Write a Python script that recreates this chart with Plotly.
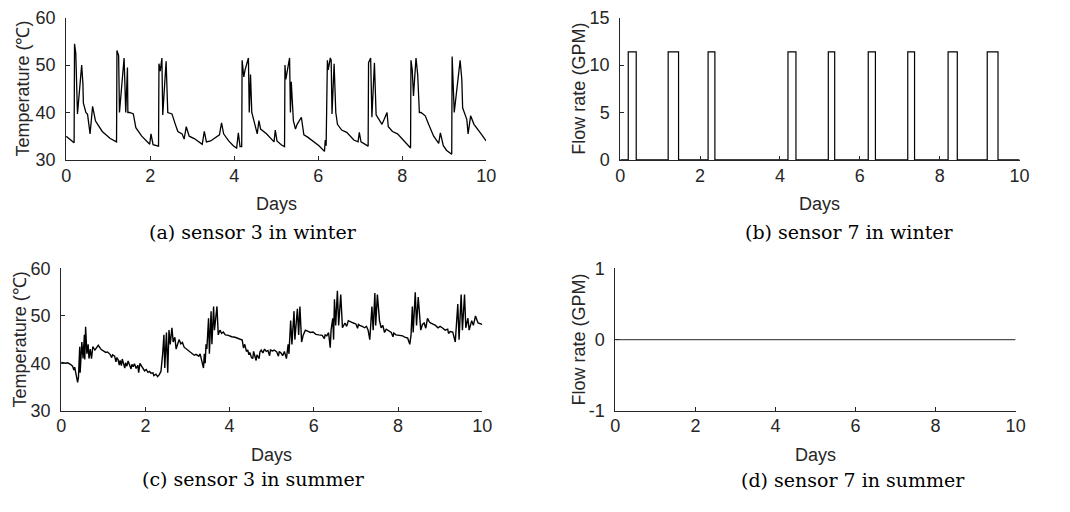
import plotly.graph_objects as go

# ---------------- data ----------------
winter_days = [0, 0.1, 0.19, 0.2, 0.23, 0.27, 0.37, 0.4, 0.41, 0.47, 0.51, 0.57, 0.63, 0.7, 0.86, 1.05, 1.2,
               1.21, 1.25, 1.27, 1.38, 1.42, 1.46, 1.47, 1.51, 1.6, 1.66, 1.8, 1.91, 1.99, 2.02, 2.07, 2.2,
               2.21, 2.24, 2.28, 2.3, 2.38, 2.42, 2.52, 2.6, 2.66, 2.76, 2.81, 2.86, 2.93, 3.05, 3.24, 3.29,
               3.34, 3.44, 3.55, 3.65, 3.7, 3.75, 3.87, 3.98, 4.06, 4.1, 4.14, 4.18,
               4.19, 4.23, 4.26, 4.34, 4.36, 4.39, 4.42, 4.51, 4.55, 4.59, 4.63, 4.77, 4.88, 4.95, 4.98, 5.02,
               5.12, 5.2, 5.21, 5.23, 5.32, 5.34, 5.36, 5.41, 5.46, 5.5, 5.6, 5.66, 5.75, 5.86, 6.02, 6.15,
               6.17, 6.19, 6.22, 6.24, 6.29, 6.31, 6.33, 6.38, 6.42, 6.46, 6.52, 6.56, 6.68, 6.76, 6.85, 6.95,
               6.98, 7.02, 7.19, 7.2, 7.25, 7.28, 7.34, 7.38, 7.46, 7.52, 7.57, 7.64, 7.67, 7.77, 7.89, 8.05,
               8.16, 8.2, 8.21, 8.24, 8.27, 8.33, 8.37, 8.41, 8.45, 8.55, 8.63, 8.75, 8.87, 8.91, 8.98, 9.06,
               9.18, 9.19, 9.24, 9.38, 9.42, 9.44, 9.5, 9.54, 9.57, 9.63, 9.71, 9.8, 9.88, 9.96, 10.0]
winter_temp = [35.0, 34.3, 33.6, 54.5, 52.5, 39.7, 50.0, 46.0, 42.0, 40.0, 39.6, 35.5, 41.3, 38.2, 36.0, 34.5, 33.8,
               53.1, 52.0, 40.0, 51.5, 40.0, 49.5, 40.0, 40.0, 39.7, 36.8, 35.0, 34.0, 33.3, 35.5, 33.2, 32.9,
               50.3, 48.7, 51.5, 39.5, 50.8, 40.0, 39.7, 37.5, 36.0, 35.5, 34.4, 37.0, 35.0, 34.5, 33.3, 36.0,
               33.8, 34.0, 34.7, 35.3, 37.8, 35.5, 34.0, 33.0, 32.5, 35.7, 32.8, 32.8,
               51.0, 47.5, 49.0, 51.5, 40.0, 48.0, 40.0, 37.0, 35.5, 38.3, 36.5, 35.5, 34.5, 33.8, 36.3, 34.0,
               33.2, 32.8, 50.0, 47.0, 51.5, 40.0, 46.5, 38.3, 36.5, 37.5, 39.0, 35.3, 34.8, 34.0, 33.0, 31.8,
               34.2, 33.0, 51.0, 49.0, 51.5, 51.0, 39.7, 50.3, 40.0, 37.5, 36.8, 36.3, 35.8, 35.0, 34.2, 33.8,
               35.8, 33.8, 32.9, 50.5, 51.5, 39.0, 50.5, 39.5, 38.5, 37.5, 38.5, 40.0, 37.0, 36.0, 35.5, 34.0,
               33.0, 32.5, 51.0, 49.0, 43.5, 51.5, 48.0, 40.0, 40.0, 39.3, 37.5, 35.0, 33.5, 35.7, 33.0, 32.0,
               31.2, 51.8, 40.0, 51.0, 47.0, 41.0, 39.5, 38.5, 35.5, 39.3, 37.5, 36.3, 35.5, 34.5, 34.0]

flow_winter_days = [0, 0.20, 0.40, 1.20, 1.46, 2.20, 2.37, 4.20, 4.40, 5.21, 5.37, 6.21, 6.39,
                    7.20, 7.37, 8.21, 8.44, 9.19, 9.46, 10.0]
flow_winter_rate = [0, 11.4, 0, 11.4, 0, 11.4, 0, 11.4, 0, 11.4, 0, 11.4, 0,
                    11.4, 0, 11.4, 0, 11.4, 0, 0]

summer_days = [0, 0.1, 0.15, 0.22, 0.27, 0.3, 0.32, 0.34, 0.39, 0.41,
               0.44, 0.45, 0.49, 0.52, 0.55, 0.56, 0.58, 0.61, 0.64, 0.66,
               0.69, 0.72, 0.75, 0.8, 0.84, 0.88, 0.95, 1.0, 1.06, 1.1,
               1.16, 1.2, 1.22, 1.27, 1.3, 1.32, 1.35, 1.38, 1.4, 1.43,
               1.45, 1.47, 1.51, 1.53, 1.56, 1.59, 1.62, 1.66, 1.68, 1.71,
               1.74, 1.78, 1.82, 1.84, 1.87, 1.91, 1.94, 1.98, 2.02, 2.06,
               2.1, 2.13, 2.18, 2.2, 2.25, 2.29, 2.33, 2.37, 2.41, 2.44,
               2.46, 2.5, 2.53, 2.56, 2.59, 2.63, 2.66, 2.7, 2.73, 2.8,
               2.84, 2.88, 2.92, 2.95, 3.0, 3.05, 3.11, 3.16, 3.2, 3.27,
               3.3, 3.34, 3.38, 3.4, 3.42, 3.44, 3.46, 3.5, 3.52, 3.56,
               3.58, 3.62, 3.64, 3.7, 3.73, 3.77, 3.81, 3.85, 3.9, 3.97,
               4.05, 4.13, 4.2, 4.3, 4.33, 4.36, 4.4, 4.43, 4.46, 4.48,
               4.52, 4.55, 4.57, 4.6, 4.63, 4.65, 4.67, 4.7, 4.72, 4.75,
               4.79, 4.83, 4.87, 4.91, 4.95, 4.97, 5.02, 5.06, 5.12, 5.16,
               5.18, 5.22, 5.26, 5.3, 5.35, 5.39, 5.41, 5.45, 5.48, 5.53,
               5.55, 5.61, 5.64, 5.67, 5.71, 5.75, 5.8, 5.85, 5.92, 5.98,
               6.05, 6.12, 6.2, 6.25, 6.27, 6.31, 6.35, 6.39, 6.41, 6.45,
               6.47, 6.49, 6.52, 6.56, 6.59, 6.64, 6.68, 6.74, 6.78, 6.82,
               6.88, 6.94, 7.0, 7.04, 7.06, 7.09, 7.15, 7.21, 7.25, 7.29,
               7.33, 7.35, 7.38, 7.41, 7.45, 7.47, 7.51, 7.56, 7.6, 7.64,
               7.68, 7.72, 7.78, 7.84, 7.88, 7.9, 7.95, 8.02, 8.11, 8.16,
               8.23, 8.28, 8.31, 8.34, 8.36, 8.41, 8.44, 8.48, 8.54, 8.58,
               8.62, 8.66, 8.7, 8.74, 8.77, 8.82, 8.89, 8.95, 9.0, 9.05,
               9.12, 9.18, 9.2, 9.24, 9.3, 9.36, 9.4, 9.42, 9.45, 9.5,
               9.53, 9.58, 9.61, 9.66, 9.69, 9.75, 9.79, 9.84, 9.9, 10.0]
summer_temp = [40.2, 40.0, 40.1, 39.8, 39.4, 38.6, 39.2, 38.0, 36.0, 37.0,
               43.5, 38.0, 44.5, 41.0, 46.0, 40.8, 47.7, 42.0, 44.0, 41.0,
               43.0, 41.0, 43.5, 42.8, 43.3, 43.8, 42.9, 42.7, 42.3, 42.4,
               41.9, 41.2, 41.8, 41.5, 40.3, 41.2, 40.8, 39.6, 40.6, 39.5,
               40.9, 40.3, 39.0, 40.1, 39.4, 40.5, 39.8, 38.8, 39.8, 39.3,
               39.9, 38.9, 39.6, 38.0, 40.0, 39.4, 39.1, 38.4, 38.7, 38.1,
               38.3, 37.9, 38.0, 37.4, 37.7, 37.2, 37.6, 38.3, 42.0, 46.0,
               39.0, 46.5, 38.0, 47.0, 44.0, 47.5, 44.5, 45.5, 43.0, 45.0,
               44.1, 44.4, 43.4, 43.2, 42.8, 42.4, 42.1, 41.7, 41.9, 41.5,
               42.0, 40.5, 39.0, 42.0, 40.0, 44.0, 43.0, 49.5, 42.0, 51.0,
               44.0, 52.0, 47.0, 52.0, 46.0, 47.0, 46.3, 46.6, 46.0, 45.9,
               45.6, 45.5, 45.2, 44.9, 43.2, 44.0, 42.5, 42.8, 41.8, 42.3,
               41.2, 41.0, 42.5, 41.2, 40.6, 41.8, 41.5, 41.0, 42.4, 42.8,
               42.2, 43.0, 42.5, 42.7, 41.6, 42.8, 42.6, 42.8, 42.4, 41.5,
               42.5, 42.2, 41.6, 42.5, 41.0, 44.0, 42.0, 49.0, 44.0, 51.0,
               45.0, 51.5, 46.0, 52.0, 44.5, 46.0, 47.0, 46.8, 46.5, 46.6,
               46.1, 46.0, 45.9, 45.2, 46.0, 45.8, 46.5, 43.3, 47.0, 49.5,
               45.0, 53.5, 48.0, 55.3, 48.0, 54.5, 47.5, 48.5, 47.8, 49.0,
               48.7, 48.5, 48.3, 47.4, 48.2, 48.0, 47.8, 47.5, 47.8, 47.0,
               45.0, 48.0, 52.0, 47.0, 54.8, 48.0, 54.5, 49.0, 47.5, 48.0,
               46.5, 47.2, 46.8, 46.5, 45.6, 46.4, 46.0, 45.9, 45.8, 45.5,
               45.3, 44.0, 46.0, 52.0, 46.5, 55.0, 48.0, 54.0, 47.0, 48.2,
               48.5, 47.4, 49.5, 48.8, 48.5, 48.3, 48.0, 47.5, 47.8, 47.5,
               47.0, 47.2, 46.3, 46.7, 46.6, 44.5, 50.0, 52.5, 45.0, 54.5,
               47.0, 54.5, 47.5, 49.5, 47.0, 49.0, 48.0, 50.0, 48.5, 48.2]

flow_summer_days = [0, 10]
flow_summer_rate = [0, 0]

day_ticks = [0, 2, 4, 6, 8, 10]
temp_ticks = [30, 40, 50, 60]
flow_w_ticks = [0, 5, 10, 15]
flow_s_ticks = [-1, 0, 1]
flow_s_ticktext = ["-1", "0", "1"]

captions = ["(a) sensor 3 in winter", "(b) sensor 7 in winter",
            "(c) sensor 3 in summer", "(d) sensor 7 in summer"]

# ---------------- layout helpers ----------------
W, H = 1070, 512
def X(px): return px / W
def Y(py): return 1 - py / H

AX = "#262626"
SANS = "Liberation Sans, Arial, Helvetica, sans-serif"
SERIF = "DejaVu Serif, serif"
FS = 18

fig = go.Figure()
fig.add_trace(go.Scatter(x=winter_days, y=winter_temp, mode="lines",
                         line=dict(color="black", width=1.3), xaxis="x", yaxis="y", showlegend=False))
fig.add_trace(go.Scatter(x=flow_winter_days, y=flow_winter_rate, mode="lines", line_shape="hv",
                         line=dict(color="black", width=1.2), xaxis="x2", yaxis="y2", showlegend=False))
fig.add_trace(go.Scatter(x=summer_days, y=summer_temp, mode="lines",
                         line=dict(color="black", width=1.4), xaxis="x3", yaxis="y3", showlegend=False))
fig.add_trace(go.Scatter(x=flow_summer_days, y=flow_summer_rate, mode="lines",
                         line=dict(color="#505050", width=1.2), xaxis="x4", yaxis="y4", showlegend=False))

def xax(dom, anchor):
    return dict(domain=dom, anchor=anchor, range=[0, 10], tickvals=day_ticks,
                showline=True, linecolor=AX, linewidth=1, ticks="inside", ticklen=4,
                tickcolor=AX, showgrid=False, zeroline=False,
                tickfont=dict(family=SANS, size=FS, color=AX), ticklabelstandoff=-1)

def yax(dom, anchor, rng, tv, tt=None):
    d = dict(domain=dom, anchor=anchor, range=rng, tickvals=tv,
             showline=True, linecolor=AX, linewidth=1, ticks="inside", ticklen=4,
             tickcolor=AX, showgrid=False, zeroline=False,
             tickfont=dict(family=SANS, size=FS, color=AX), ticklabelstandoff=6)
    if tt is not None:
        d["ticktext"] = tt
    return d

fig.update_layout(
    width=W, height=H, margin=dict(l=0, r=0, t=0, b=0),
    paper_bgcolor="white", plot_bgcolor="white",
    xaxis=xax([X(62), X(488)], "y"),
    yaxis=yax([Y(156), Y(8)], "x", [30, 60], temp_ticks),
    xaxis2=xax([X(624), X(1029)], "y2"),
    yaxis2=yax([Y(156), Y(8)], "x2", [0, 15], flow_w_ticks),
    xaxis3=xax([X(57), X(484)], "y3"),
    yaxis3=yax([Y(417), Y(269)], "x3", [30, 60], temp_ticks),
    xaxis4=xax([X(619), X(1025)], "y4"),
    yaxis4=yax([Y(417), Y(269)], "x4", [-1, 1], flow_s_ticks, flow_s_ticktext),
)

ann = []
def add_text(text, px, py, family=SANS, size=FS, angle=0):
    ann.append(dict(text=text, x=X(px), y=Y(py), xref="paper", yref="paper",
                    xanchor="center", yanchor="middle", showarrow=False, textangle=angle,
                    font=dict(family=family, size=size, color=AX if family == SANS else "black")))

add_text("Temperature (℃)", 18, 82, angle=-90)
add_text("Flow rate (GPM)", 582, 82, angle=-90)
add_text("Temperature (℃)", 15, 343, angle=-90)
add_text("Flow rate (GPM)", 582, 343, angle=-90)
add_text("Days", 275, 202)
add_text("Days", 826, 202)
add_text("Days", 270, 463)
add_text("Days", 822, 463)
add_text(captions[0], 252, 231, family=SERIF, size=19)
add_text(captions[1], 857, 231, family=SERIF, size=19)
add_text(captions[2], 252, 488, family=SERIF, size=19)
add_text(captions[3], 860, 489, family=SERIF, size=19)
fig.update_layout(annotations=ann)

fig.write_html("out.html", config={"displayModeBar": False},
               post_script="document.body.style.margin='0';document.body.style.overflow='hidden';")
